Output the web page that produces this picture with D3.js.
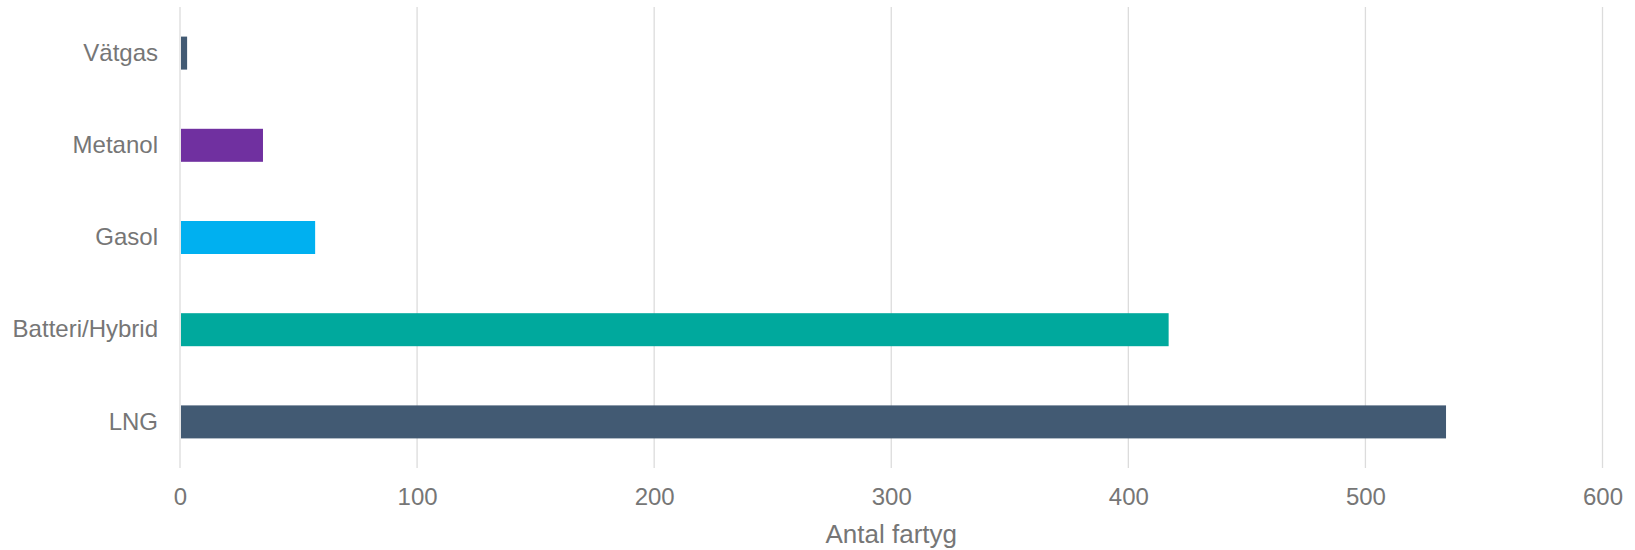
<!DOCTYPE html>
<html>
<head>
<meta charset="utf-8">
<script src="https://cdn.jsdelivr.net/npm/d3@7"></script>
<style>
  html, body { margin: 0; padding: 0; background: #ffffff; }
  svg { display: block; font-family: "Liberation Sans", Arial, sans-serif; }
</style>
</head>
<body>
<svg id="chart" width="1635" height="550"></svg>
<script>
// Fuel categories, top to bottom
const categories = ["Vätgas", "Metanol", "Gasol", "Batteri/Hybrid", "LNG"];
// Number of vessels per fuel type
const values = [3, 35, 57, 417, 534];
const barColors = ["#425a73", "#7030a0", "#00b0f0", "#00a99d", "#425a73"];
const xTicks = [0, 100, 200, 300, 400, 500, 600];
const xTitle = "Antal fartyg";

const svg = d3.select("#chart");
const margin = { left: 180, right: 32.5, top: 7, bottom: 82 };
const W = 1635, H = 550;

const x = d3.scaleLinear()
  .domain([0, 600])
  .range([margin.left, W - margin.right]);

const y = d3.scaleBand()
  .domain(categories)
  .range([margin.top, H - margin.bottom])
  .paddingInner(0.642)
  .paddingOuter(0.321);

const textColor = "#767676";

// Vertical gridlines
svg.append("g")
  .selectAll("line")
  .data(xTicks)
  .join("line")
  .attr("x1", d => x(d))
  .attr("x2", d => x(d))
  .attr("y1", margin.top)
  .attr("y2", H - margin.bottom)
  .attr("stroke", "#dcdcdc")
  .attr("stroke-width", 1.3);

// Bars
svg.append("g")
  .selectAll("rect")
  .data(categories)
  .join("rect")
  .attr("x", x(0) + 1)
  .attr("y", d => y(d))
  .attr("width", (d, i) => x(values[i]) - x(0) - 1)
  .attr("height", y.bandwidth())
  .attr("fill", (d, i) => barColors[i]);

// Bottom axis tick labels
const xAxis = d3.axisBottom(x)
  .tickValues(xTicks)
  .tickFormat(d3.format("d"))
  .tickSize(0)
  .tickPadding(20);

const gx = svg.append("g")
  .attr("transform", `translate(0,${H - margin.bottom})`)
  .call(xAxis);
gx.select(".domain").remove();
gx.selectAll("text")
  .attr("fill", textColor)
  .attr("font-size", 24)
  .attr("font-family", "Liberation Sans, Arial, sans-serif");

// Left axis category labels
const yAxis = d3.axisLeft(y).tickSize(0).tickPadding(22);
const gy = svg.append("g")
  .attr("transform", `translate(${margin.left},0)`)
  .call(yAxis);
gy.select(".domain").remove();
gy.selectAll("text")
  .attr("fill", textColor)
  .attr("font-size", 24)
  .attr("font-family", "Liberation Sans, Arial, sans-serif");

// Axis title
svg.append("text")
  .attr("x", (x(0) + x(600)) / 2)
  .attr("y", 543)
  .attr("text-anchor", "middle")
  .attr("fill", textColor)
  .attr("font-size", 26)
  .text(xTitle);
</script>
</body>
</html>
